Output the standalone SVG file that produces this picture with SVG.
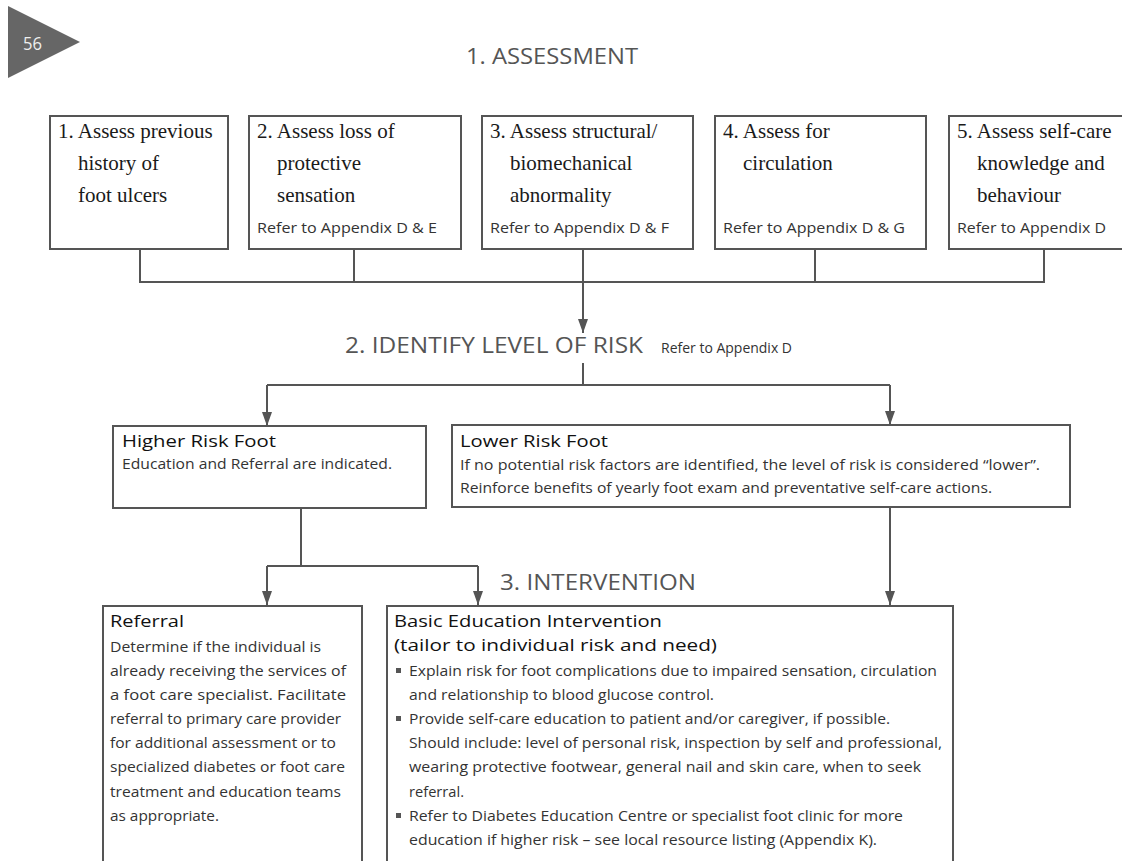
<svg xmlns="http://www.w3.org/2000/svg" width="1122" height="861" viewBox="0 0 1122 861">
<style>
.box{fill:#fff;stroke:#555;stroke-width:2}
.ln{fill:none;stroke:#555;stroke-width:2}
.ar{fill:none;stroke:#555;stroke-width:2;marker-end:url(#ah)}
.serif{font-family:"Liberation Serif","Times New Roman",serif;font-size:21px;fill:#1a1a1a}
.ref{font-family:"Open Sans","Noto Sans",sans-serif;font-size:14px;fill:#333}
.head{font-family:"Open Sans","Noto Sans",sans-serif;font-size:22px;fill:#555}
.title{font-family:"Open Sans","Noto Sans",sans-serif;font-size:17px;fill:#111}
.body{font-family:"Open Sans","Noto Sans",sans-serif;font-size:14px;fill:#333}
.bul{fill:#555}
</style>
<defs>
<marker id="ah" markerUnits="userSpaceOnUse" markerWidth="14" markerHeight="10" refX="14" refY="5" orient="auto">
<path d="M0,0 L14,5 L0,10 z" fill="#555"/>
</marker>
</defs>
<rect width="1122" height="861" fill="#fff"/>

<g id="page-marker">
<polygon points="8,6 80,42 8,78" fill="#666"/>
<text x="23" y="50" font-family="Open Sans, sans-serif" font-size="18" fill="#eee" textLength="19" lengthAdjust="spacingAndGlyphs">56</text>
</g>

<g id="headings">
<text class="head" x="466" y="64" textLength="172" lengthAdjust="spacingAndGlyphs">1. ASSESSMENT</text>
<text class="head" x="345" y="353" font-size="20" textLength="298" lengthAdjust="spacingAndGlyphs">2. IDENTIFY LEVEL OF RISK</text>
<text class="ref" x="661" y="353" textLength="131" lengthAdjust="spacingAndGlyphs">Refer to Appendix D</text>
<text class="head" x="500" y="590" font-size="23" textLength="196" lengthAdjust="spacingAndGlyphs">3. INTERVENTION</text>
</g>

<g id="connectors">
<path class="ln" d="M140,249 V282 H1044 V249"/>
<path class="ln" d="M354,249 V282"/>
<path class="ln" d="M815,249 V282"/>
<path class="ar" d="M583,249 V333"/>
<path class="ln" d="M583,363 V385"/>
<path class="ln" d="M267,385 H890"/>
<path class="ar" d="M267,385 V426"/>
<path class="ar" d="M890,385 V425"/>
<path class="ln" d="M301,508 V566"/>
<path class="ln" d="M267,566 H478"/>
<path class="ar" d="M267,566 V605"/>
<path class="ar" d="M478,566 V605"/>
<path class="ar" d="M890,507 V605"/>
</g>

<g id="assess1">
<rect class="box" x="50" y="116" width="178" height="133"/>
<text class="serif" x="58" y="138">1. Assess previous</text>
<text class="serif" x="78" y="170">history of</text>
<text class="serif" x="78" y="202">foot ulcers</text>
</g>

<g id="assess2">
<rect class="box" x="249" y="116" width="212" height="133"/>
<text class="serif" x="257" y="138">2. Assess loss of</text>
<text class="serif" x="277" y="170">protective</text>
<text class="serif" x="277" y="202">sensation</text>
<text class="ref" x="257" y="233" textLength="180" lengthAdjust="spacingAndGlyphs">Refer to Appendix D &amp; E</text>
</g>

<g id="assess3">
<rect class="box" x="482" y="116" width="211" height="133"/>
<text class="serif" x="490" y="138">3. Assess structural/</text>
<text class="serif" x="510" y="170">biomechanical</text>
<text class="serif" x="510" y="202">abnormality</text>
<text class="ref" x="490" y="233" textLength="179" lengthAdjust="spacingAndGlyphs">Refer to Appendix D &amp; F</text>
</g>

<g id="assess4">
<rect class="box" x="715" y="116" width="211" height="133"/>
<text class="serif" x="723" y="138">4. Assess for</text>
<text class="serif" x="743" y="170">circulation</text>
<text class="ref" x="723" y="233" textLength="182" lengthAdjust="spacingAndGlyphs">Refer to Appendix D &amp; G</text>
</g>

<g id="assess5">
<rect class="box" x="949" y="116" width="200" height="133"/>
<text class="serif" x="957" y="138">5. Assess self-care</text>
<text class="serif" x="977" y="170">knowledge and</text>
<text class="serif" x="977" y="202">behaviour</text>
<text class="ref" x="957" y="233" textLength="149" lengthAdjust="spacingAndGlyphs">Refer to Appendix D</text>
</g>

<g id="higher-risk">
<rect class="box" x="113" y="426" width="313" height="82"/>
<text class="title" x="122" y="447" textLength="154" lengthAdjust="spacingAndGlyphs">Higher Risk Foot</text>
<text class="body" x="122" y="469" textLength="270" lengthAdjust="spacingAndGlyphs">Education and Referral are indicated.</text>
</g>

<g id="lower-risk">
<rect class="box" x="452" y="425" width="618" height="82"/>
<text class="title" x="460" y="447" textLength="148" lengthAdjust="spacingAndGlyphs">Lower Risk Foot</text>
<text class="body" x="460" y="470" textLength="580" lengthAdjust="spacingAndGlyphs">If no potential risk factors are identified, the level of risk is considered “lower”.</text>
<text class="body" x="460" y="493" textLength="532" lengthAdjust="spacingAndGlyphs">Reinforce benefits of yearly foot exam and preventative self-care actions.</text>
</g>

<g id="referral">
<rect class="box" x="103" y="606" width="259" height="270"/>
<text class="title" x="110" y="627" textLength="74" lengthAdjust="spacingAndGlyphs">Referral</text>
<text class="body" x="110" y="652" textLength="211" lengthAdjust="spacingAndGlyphs">Determine if the individual is</text>
<text class="body" x="110" y="676" textLength="236" lengthAdjust="spacingAndGlyphs">already receiving the services of</text>
<text class="body" x="110" y="700" textLength="236" lengthAdjust="spacingAndGlyphs">a foot care specialist. Facilitate</text>
<text class="body" x="110" y="724" textLength="231" lengthAdjust="spacingAndGlyphs">referral to primary care provider</text>
<text class="body" x="110" y="748" textLength="226" lengthAdjust="spacingAndGlyphs">for additional assessment or to</text>
<text class="body" x="110" y="772" textLength="235" lengthAdjust="spacingAndGlyphs">specialized diabetes or foot care</text>
<text class="body" x="110" y="797" textLength="231" lengthAdjust="spacingAndGlyphs">treatment and education teams</text>
<text class="body" x="110" y="821" textLength="109" lengthAdjust="spacingAndGlyphs">as appropriate.</text>
</g>

<g id="basic-education">
<rect class="box" x="387" y="606" width="566" height="270"/>
<text class="title" x="394" y="627" font-size="18" textLength="268" lengthAdjust="spacingAndGlyphs">Basic Education Intervention</text>
<text class="title" x="394" y="651" font-size="18" textLength="323" lengthAdjust="spacingAndGlyphs">(tailor to individual risk and need)</text>
<rect class="bul" x="396" y="668" width="5" height="5"/>
<text class="body" x="409" y="676" textLength="528" lengthAdjust="spacingAndGlyphs">Explain risk for foot complications due to impaired sensation, circulation</text>
<text class="body" x="409" y="700" textLength="305" lengthAdjust="spacingAndGlyphs">and relationship to blood glucose control.</text>
<rect class="bul" x="396" y="716" width="5" height="5"/>
<text class="body" x="409" y="724" textLength="481" lengthAdjust="spacingAndGlyphs">Provide self-care education to patient and/or caregiver, if possible.</text>
<text class="body" x="409" y="748" textLength="533" lengthAdjust="spacingAndGlyphs">Should include: level of personal risk, inspection by self and professional,</text>
<text class="body" x="409" y="772" textLength="512" lengthAdjust="spacingAndGlyphs">wearing protective footwear, general nail and skin care, when to seek</text>
<text class="body" x="409" y="797" textLength="55" lengthAdjust="spacingAndGlyphs">referral.</text>
<rect class="bul" x="396" y="813" width="5" height="5"/>
<text class="body" x="409" y="821" textLength="494" lengthAdjust="spacingAndGlyphs">Refer to Diabetes Education Centre or specialist foot clinic for more</text>
<text class="body" x="409" y="845" textLength="468" lengthAdjust="spacingAndGlyphs">education if higher risk – see local resource listing (Appendix K).</text>
</g>
</svg>
